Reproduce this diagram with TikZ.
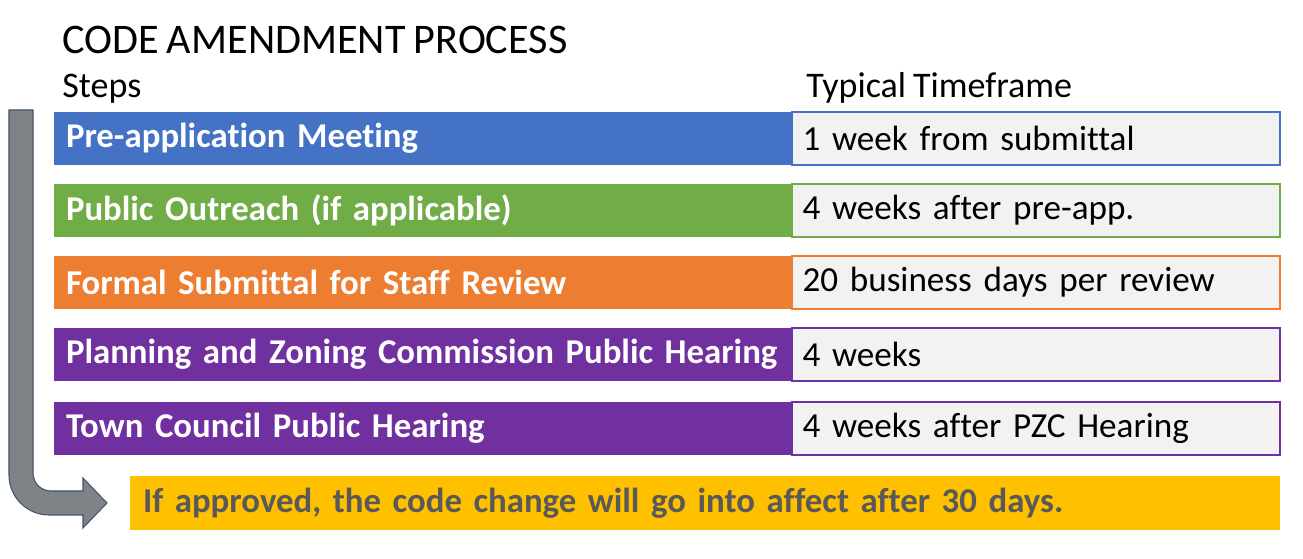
\documentclass[tikz,border=0pt]{standalone}
\usepackage{fontspec}
\setmainfont{Carlito}[WordSpace=0.85, Ligatures={NoCommon}]
\usetikzlibrary{positioning}
\definecolor{StepBlue}{HTML}{4472C4}
\definecolor{StepGreen}{HTML}{70AD47}
\definecolor{StepOrange}{HTML}{ED7D31}
\definecolor{StepPurple}{HTML}{7030A0}
\definecolor{NoteGold}{HTML}{FFC000}
\definecolor{NoteText}{HTML}{595959}
\definecolor{TimeGray}{HTML}{F2F2F2}
\definecolor{ArrowFill}{HTML}{7F8286}
\definecolor{ArrowEdge}{HTML}{44546A}

\begin{document}
\begin{tikzpicture}[
  font=\fontsize{20}{24}\selectfont,
  node distance=0.38cm and 0cm,
  stepbox/.style={fill=#1, text=white, font=\fontsize{19.8}{24}\selectfont\bfseries,
                  minimum height=1.06cm, text width=14.4cm, inner xsep=0.18cm,
                  inner ysep=0pt, align=left, outer sep=0pt},
  timebox/.style={draw=#1, line width=0.6pt, fill=TimeGray,
                  minimum height=1.06cm, text width=9.34cm, inner xsep=0.21cm,
                  inner ysep=0pt, align=left, outer sep=0pt},
  notebox/.style={fill=NoteGold, text=NoteText, font=\fontsize{19.8}{24}\selectfont\bfseries,
                  minimum height=1.08cm, text width=22.48cm, inner xsep=0.26cm,
                  inner ysep=0pt, align=left, outer sep=0pt},
  head/.style={anchor=base west, inner sep=0pt, font=\fontsize{20.5}{24}\selectfont},
]
  \useasboundingbox (0,0) rectangle (26.06,11.18);

  % headings
  \node[head, font=\fontsize{24}{28}\selectfont] (title) at (1.24,10.1) {CODE AMENDMENT PROCESS};
  \node[head] (steps) at (1.24,9.22) {Steps};
  \node[head] (frame) at (16.12,9.22) {Typical Timeframe};

  % steps and timeframes
  \node[stepbox=StepBlue, anchor=north west] (pre) at (1.08,8.94) {\hspace*{0.06cm}Pre-application Meeting};
  \node[timebox=StepBlue, right=0cm of pre] (preT) {1 week from submittal};

  \node[stepbox=StepGreen, below=of pre] (outreach) {\hspace*{0.06cm}Public Outreach (if applicable)};
  \node[timebox=StepGreen, right=0cm of outreach] (outreachT) {4 weeks after pre-app.};

  \node[stepbox=StepOrange, below=of outreach] (review) {\hspace*{0.06cm}Formal Submittal for Staff Review};
  \node[timebox=StepOrange, right=0cm of review] (reviewT) {20 business days per review};

  \node[stepbox=StepPurple, below=of review] (pzc) {\hspace*{0.06cm}Planning and Zoning Commission Public Hearing};
  \node[timebox=StepPurple, right=0cm of pzc] (pzcT) {4 weeks};

  \node[stepbox=StepPurple, below=0.42cm of pzc] (council) {\hspace*{0.06cm}Town Council Public Hearing};
  \node[timebox=StepPurple, right=0cm of council] (councilT) {4 weeks after PZC Hearing};

  \node[notebox, anchor=north east] (note) at ([yshift=-0.42cm]councilT.south east)
    {If approved, the code change will go into affect after 30 days.};

  % bent arrow
  \draw[fill=ArrowFill, draw=ArrowEdge, line width=0.6pt]
    (0.18,8.98) -- (0.66,8.98) -- (0.66,1.72)
    arc[start angle=180, end angle=270, radius=0.36] -- (1.66,1.36)
    -- (1.66,1.62) -- ([xshift=-0.46cm]note.west |- 0,1.12) -- (1.66,0.62) -- (1.66,0.88)
    -- (0.98,0.88) arc[start angle=270, end angle=180, radius=0.8] -- cycle;
\end{tikzpicture}
\end{document}
